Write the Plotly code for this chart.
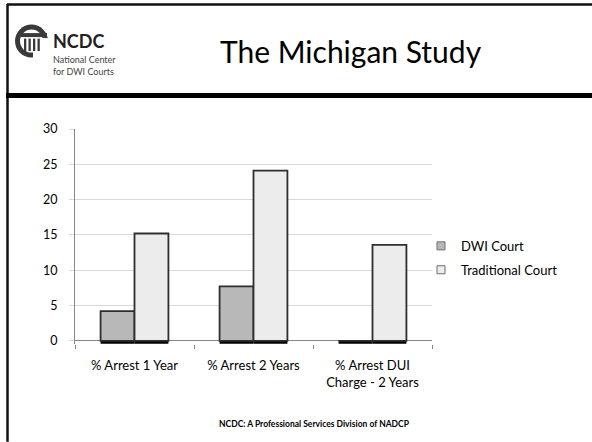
import plotly.graph_objects as go

categories = ["% Arrest 1 Year", "% Arrest 2 Years", "% Arrest DUI<br>Charge - 2 Years"]
dwi_court = [4.2, 7.7, 0.0]
traditional_court = [15.2, 24.1, 13.6]
series_names = ["DWI Court", "Traditional Court"]
series_fills = ["#b8b8b8", "#ececec"]
y_ticks = [0, 5, 10, 15, 20, 25, 30]
y_range = [-0.45, 30]

W, H = 592, 442
L, R, T, B = 75, 432, 129, 344.2
FONT = "Lato, 'Open Sans', sans-serif"

def px(x):
    return (x - L) / (R - L)

def py(y):
    return (B - y) / (B - T)

fig = go.Figure()
# dark base "shadow" under each bar
for vals, grp in [(dwi_court, "dwi"), (traditional_court, "trad")]:
    fig.add_trace(go.Bar(
        x=categories, y=[0.5 for _ in vals], base=[-0.42 for _ in vals], offsetgroup=grp,
        marker=dict(color="#000", line=dict(width=0)), showlegend=False, hoverinfo="skip",
    ))
for name, vals, grp, fill in [(series_names[0], dwi_court, "dwi", series_fills[0]),
                              (series_names[1], traditional_court, "trad", series_fills[1])]:
    fig.add_trace(go.Bar(
        x=categories, y=vals, name=name, offsetgroup=grp, legendgroup=grp, showlegend=False,
        marker=dict(color=fill, line=dict(color="#2e2e2e", width=1.8)),
    ))
    # compact legend swatch
    fig.add_trace(go.Scatter(
        x=[None], y=[None], mode="markers", name=name, legendgroup=grp, showlegend=True,
        marker=dict(symbol="square", size=8, color=fill, line=dict(color="#6e6e6e", width=1)),
    ))

shapes = []
# slide frame
shapes.append(dict(type="line", xref="paper", yref="paper", x0=px(7), x1=px(592), y0=py(4.5), y1=py(4.5),
                   line=dict(color="#111", width=2.5)))
shapes.append(dict(type="line", xref="paper", yref="paper", x0=px(7.5), x1=px(7.5), y0=py(4), y1=py(442),
                   line=dict(color="#111", width=2.5)))
shapes.append(dict(type="line", xref="paper", yref="paper", x0=px(6), x1=px(592), y0=py(95.5), y1=py(95.5),
                   line=dict(color="#000", width=5)))
# logo
LOGO = "#3a3a3a"
shapes.append(dict(type="circle", xref="paper", yref="paper", x0=px(15), x1=px(48), y0=py(24.5), y1=py(57.5),
                   fillcolor=LOGO, line=dict(width=0)))
shapes.append(dict(type="circle", xref="paper", yref="paper", x0=px(20), x1=px(43), y0=py(29.5), y1=py(52.5),
                   fillcolor="white", line=dict(width=0)))
shapes.append(dict(type="rect", xref="paper", yref="paper", x0=px(33), x1=px(50), y0=py(38), y1=py(60),
                   fillcolor="white", line=dict(width=0)))
shapes.append(dict(type="rect", xref="paper", yref="paper", x0=px(21), x1=px(47), y0=py(33), y1=py(37),
                   fillcolor=LOGO, line=dict(width=0)))
for cx in [24, 28.5, 33, 37.5]:
    shapes.append(dict(type="rect", xref="paper", yref="paper", x0=px(cx), x1=px(cx + 2.3), y0=py(38.5),
                       y1=py(51), fillcolor=LOGO, line=dict(width=0)))

annotations = [
    dict(text="The Michigan Study", xref="paper", yref="paper", x=px(351), y=py(50.5),
         xanchor="center", yanchor="middle", showarrow=False,
         font=dict(family=FONT, size=30, color="#000")),
    dict(text="<b>NCDC</b>", xref="paper", yref="paper", x=px(51), y=py(41),
         xanchor="left", yanchor="middle", showarrow=False,
         font=dict(family=FONT, size=18, color="#222")),
    dict(text="National Center<br>for DWI Courts", xref="paper", yref="paper", x=px(51), y=py(65),
         xanchor="left", yanchor="middle", showarrow=False, align="left",
         font=dict(family=FONT, size=9, color="#444")),
    dict(text="<b>NCDC: A Professional Services Division of NADCP</b>", xref="paper", yref="paper",
         x=px(314), y=py(424), xanchor="center", yanchor="middle", showarrow=False,
         font=dict(family=FONT, size=8.5, color="#000")),
]

fig.update_layout(
    width=W, height=H,
    margin=dict(l=L, r=W - R, t=T, b=H - B, pad=0),
    paper_bgcolor="white", plot_bgcolor="white",
    barmode="group", bargap=0.43, bargroupgap=0,
    font=dict(family=FONT, size=13, color="#000"),
    showlegend=True,
    legend=dict(x=px(421), y=py(231), xanchor="left", yanchor="top",
                font=dict(family=FONT, size=13, color="#000"), traceorder="grouped", tracegroupgap=4,
                bgcolor="rgba(0,0,0,0)", itemwidth=30),
    shapes=shapes, annotations=annotations,
)
fig.update_yaxes(range=y_range, tickvals=y_ticks, showgrid=True, gridcolor="#d9d9d9", gridwidth=1,
                 showline=True, linecolor="#868686", linewidth=1, ticks="outside", ticklen=5,
                 tickcolor="#d9d9d9", zeroline=True, zerolinecolor="#868686", zerolinewidth=1,
                 tickfont=dict(size=12.5), ticklabelstandoff=9)
fig.update_xaxes(showline=False, ticks="outside", ticklen=4,
                 tickcolor="#868686", tickson="boundaries", tickfont=dict(size=13),
                 ticklabelstandoff=12)

fig.write_html("out.html", config={"displayModeBar": False},
               post_script="document.body.style.margin='0';document.body.style.overflow='hidden';")
